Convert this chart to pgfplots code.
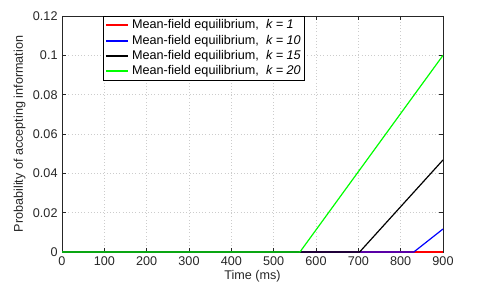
\documentclass[border=0pt]{standalone}
\usepackage{fontspec}
\setmainfont{Liberation Sans}
\usepackage{pgfplots}
\pgfplotsset{compat=1.18}
\definecolor{axgray}{gray}{0.15}
\definecolor{mred}{RGB}{255,0,0}
\definecolor{mblue}{RGB}{0,0,255}
\definecolor{mgreen}{RGB}{0,255,0}
\begin{document}
\fontsize{9.5}{11}\selectfont
\begin{tikzpicture}
\begin{axis}[
  name=ax,
  scale only axis=true,
  width=285.75bp, height=177bp,
  xmin=0, xmax=900, ymin=0, ymax=0.12,
  xtick={0,100,...,900},
  ytick={0,0.02,0.04,0.06,0.08,0.1,0.12},
  scaled y ticks=false,
  yticklabel style={/pgf/number format/fixed,/pgf/number format/precision=2},
  /pgf/number format/assume math mode=true,
  tick align=inside, tick pos=both,
  major tick length=3pt,
  axis line style={axgray, line width=0.6pt},
  every tick/.style={axgray, line width=0.5pt},
  tick label style={text=axgray, font=\fontsize{9.5}{11}\selectfont},
  label style={text=axgray, font=\fontsize{9.5}{11}\selectfont},
  grid=major,
  major grid style={dotted, gray!40, line width=0.4pt},
  xlabel={Time (ms)},
  ylabel={Probability of accepting information},
  xlabel style={yshift=3pt},
  ylabel style={yshift=-1pt},
  legend cell align=left,
  legend style={at={(0.108,1)}, anchor=north west, line width=0.6pt,
    font=\fontsize{9.5}{10.5}\selectfont, inner sep=1pt,
    nodes={inner ysep=1.6pt}},
  legend image post style={line width=1.4pt},
]
\addplot[mred, line width=0.9pt] coordinates {(0,0) (900,0)};
\addlegendentry{Mean-field equilibrium,\ \ \textit{k = 1}}
\addplot[mblue, line width=0.9pt] coordinates {(0,0) (831,0) (900,0.0117)};
\addlegendentry{Mean-field equilibrium,\ \ \textit{k = 10}}
\addplot[black, line width=0.9pt] coordinates {(0,0) (703,0) (900,0.0468)};
\addlegendentry{Mean-field equilibrium,\ \ \textit{k = 15}}
\addplot[mgreen, line width=0.9pt] coordinates {(0,0) (562,0) (900,0.1)};
\addlegendentry{Mean-field equilibrium,\ \ \textit{k = 20}}
\end{axis}
\path[use as bounding box] ([xshift=-46.5bp,yshift=-27.75bp]ax.south west) rectangle ([xshift=36bp,yshift=12bp]ax.north east);
\end{tikzpicture}
\end{document}
